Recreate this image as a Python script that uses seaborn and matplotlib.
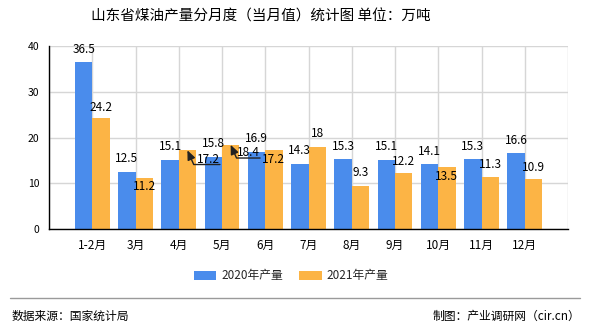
import matplotlib
matplotlib.use("Agg")
import matplotlib.pyplot as plt
from matplotlib.lines import Line2D
from matplotlib.patches import Patch
import pandas as pd
import seaborn as sns

# Monthly kerosene output, 10k tonnes
months = ["1-2月", "3月", "4月", "5月", "6月", "7月", "8月", "9月", "10月", "11月", "12月"]
output_2020 = [36.5, 12.5, 15.1, 15.8, 16.9, 14.3, 15.3, 15.1, 14.1, 15.3, 16.6]
output_2021 = [24.2, 11.2, 17.2, 18.4, 17.2, 18, 9.3, 12.2, 13.5, 11.3, 10.9]
series_names = ["2020年产量", "2021年产量"]
y_ticks = [0, 10, 20, 30, 40]

title = "山东省煤油产量分月度（当月值）统计图 单位：万吨"
source_note = "数据来源：国家统计局"
credit_note = "制图：产业调研网（cir.cn）"

BLUE = "#4a8cec"
ORANGE = "#fcb445"
W, H = 590, 330

sns.set_style("white")
plt.rcParams["font.family"] = ["Noto Sans CJK SC", "DejaVu Sans"]

df = pd.DataFrame({
    "month": months * 2,
    "value": output_2020 + output_2021,
    "series": [series_names[0]] * len(months) + [series_names[1]] * len(months),
})

fig = plt.figure(figsize=(W / 100, H / 100), dpi=100)
ax = fig.add_axes([49 / W, 1 - 229 / H, (568 - 49) / W, (229 - 46) / H])

sns.barplot(data=df, x="month", y="value", hue="series", order=months,
            hue_order=series_names, palette=[BLUE, ORANGE], width=0.8,
            linewidth=0, saturation=1, errorbar=None, ax=ax)
ax.get_legend().remove()

n = len(months)
ax.set_xlim(-1, n)
ax.set_xticks(list(range(-1, n + 1)))
ax.set_xticklabels([""] + months + [""], fontsize=8.5)
ax.set_ylim(0, 40)
ax.set_yticks(y_ticks)
ax.set_yticklabels([str(t) for t in y_ticks], fontsize=7.5)
ax.set_xlabel("")
ax.set_ylabel("")

ax.set_axisbelow(True)
ax.grid(True, color="#d6d6d6", linewidth=1)
for side in ("top", "right"):
    ax.spines[side].set_visible(False)
for side in ("left", "bottom"):
    ax.spines[side].set_color("black")
    ax.spines[side].set_linewidth(1)
ax.tick_params(axis="both", direction="out", length=5, width=1, color="black",
               labelcolor="black", pad=2)

# Value labels: (dx, dy) in pixels from the top centre of each bar
px = 0.72
blue_offsets = [(0, 13)] * n
orange_offsets = [(0, 11), (0, -9), (21, -9), (18, -8), (0, -9), (0, 13),
                  (0, 13.5), (0, 12), (0, -9), (0, 13), (0, 12)]
leader_lines = {2, 3}

for cont, offsets, values in zip(ax.containers, (blue_offsets, orange_offsets),
                                 (output_2020, output_2021)):
    for i, (bar, (dx, dy), v) in enumerate(zip(cont, offsets, values)):
        xc = bar.get_x() + bar.get_width() / 2
        top = bar.get_height()
        kw = {}
        if values is output_2021 and i in leader_lines:
            kw["arrowprops"] = dict(
                arrowstyle="-|>,head_length=0.7,head_width=0.3",
                connectionstyle="angle,angleA=0,angleB=-66,rad=0",
                relpos=(1, 0.1), patchA=None, shrinkA=0, shrinkB=0,
                color="#222222", lw=1, mutation_scale=8)
        ax.annotate(f"{v:g}", xy=(xc, top), xytext=(dx * px, dy * px),
                    textcoords="offset points", ha="center", va="center",
                    fontsize=8.5, color="black", **kw)

fig.text(261 / W, 1 - 17 / H, title, ha="center", va="center", fontsize=10.5,
         color="black")

handles = [Patch(facecolor=BLUE, edgecolor="none"),
           Patch(facecolor=ORANGE, edgecolor="none")]
fig.legend(handles, series_names, loc="center", bbox_to_anchor=(291 / W, 1 - 276 / H),
           ncol=2, frameon=False, fontsize=8.5, handlelength=1.9, handleheight=0.7,
           handletextpad=0.4, columnspacing=1.4)

fig.add_artist(Line2D([10 / W, 580 / W], [1 - 298 / H] * 2, color="#9a9a9a", lw=1))
fig.text(12 / W, 1 - 316 / H, source_note, ha="left", va="center", fontsize=8.5,
         color="black")
fig.text(580 / W, 1 - 316 / H, credit_note, ha="right", va="center", fontsize=8.5,
         color="black")

fig.savefig("out.png", dpi=100, facecolor="white")
